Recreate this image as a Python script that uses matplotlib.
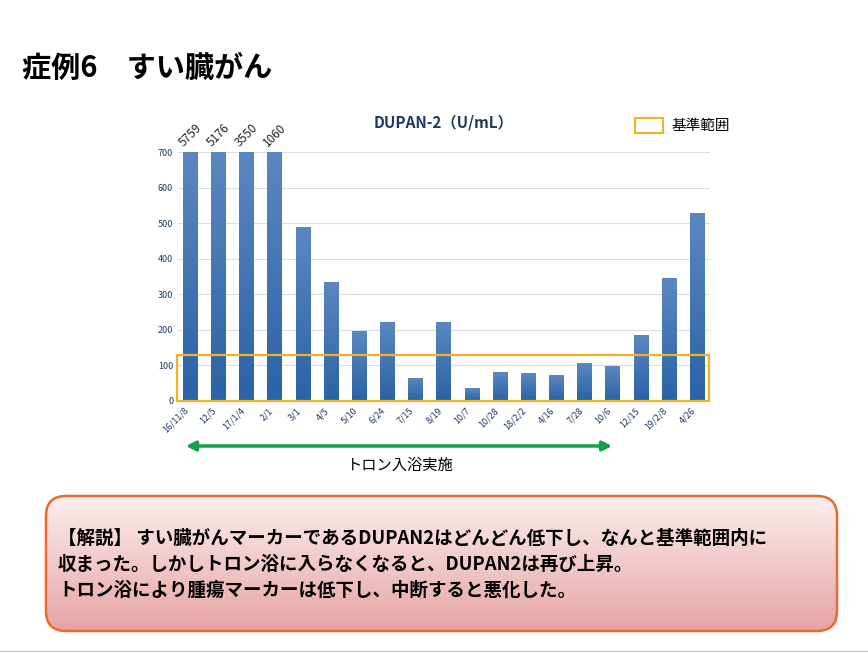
import numpy as np
import matplotlib.pyplot as plt
from matplotlib.patches import Rectangle, FancyBboxPatch, FancyArrowPatch
from matplotlib.colors import LinearSegmentedColormap

plt.rcParams["font.family"] = ["Noto Sans CJK JP", "DejaVu Sans"]

# data
dates = ["16/11/8", "12/5", "17/1/4", "2/1", "3/1", "4/5", "5/10", "6/24", "7/15", "8/19",
         "10/7", "10/28", "18/2/2", "4/16", "7/28", "10/6", "12/15", "19/2/8", "4/26"]
values = [5759, 5176, 3550, 1060, 487, 333, 196, 221, 64, 221,
          36, 81, 78, 72, 106, 97, 184, 344, 526]
y_cap = 700
ref_upper = 128

fig = plt.figure(figsize=(8.68, 6.53), dpi=100)
W, H = 868, 653

def fx(px):
    return px / W

def fy(py):
    return 1 - py / H

fig.text(fx(22), fy(68), "症例6　すい臓がん", fontsize=21, fontweight="bold", va="center")

ax = fig.add_axes([fx(178), fy(401), fx(710) - fx(178), fy(152) - fy(401)])
x = np.arange(len(values))
shown = [min(v, y_cap) for v in values]
grad = np.linspace(0, 1, 100).reshape(-1, 1)
cmap = LinearSegmentedColormap.from_list("b", ["#2a63a6", "#5b87c0"])
w = 0.52
for xi, h in zip(x, shown):
    ax.imshow(grad, extent=(xi - w / 2, xi + w / 2, 0, h), origin="lower",
              cmap=cmap, aspect="auto", zorder=2)
for xi, v in zip(x, values):
    if v > y_cap:
        ax.text(xi, y_cap + 8, str(v), rotation=45, ha="center", va="bottom",
                fontsize=8.5, color="#222222")
ax.add_patch(Rectangle((-0.45, 0), len(values) - 1 + 0.85, ref_upper,
                       fill=False, edgecolor="#f5b120", lw=1.6, zorder=3, clip_on=False))
ax.set_xlim(-0.43, len(values) - 0.55)
ax.set_ylim(0, y_cap)
ax.set_yticks(range(0, 701, 100))
ax.set_xticks(x)
ax.set_xticklabels(dates, rotation=45, ha="right", fontsize=6.5, color="#1f3864")
ax.tick_params(axis="y", labelsize=6.5, labelcolor="#1f3864", length=0)
ax.tick_params(axis="x", length=0)
ax.grid(axis="y", color="#d5dfea", lw=0.8, zorder=0)
for s in ax.spines.values():
    s.set_visible(False)
ax.set_title("DUPAN-2（U/mL）", fontsize=11, fontweight="bold", color="#1f3864", pad=18)

fig.patches.append(Rectangle((fx(635), fy(133)), fx(28), fy(118) - fy(133),
                             transform=fig.transFigure, fill=False,
                             edgecolor="#f5b120", lw=1.5))
fig.text(fx(672), fy(126), "基準範囲", fontsize=10.5, va="center")

arrow = FancyArrowPatch((fx(183), fy(446)), (fx(615), fy(446)), transform=fig.transFigure,
                        arrowstyle="<|-|>", mutation_scale=14, color="#12a34a", lw=2.5)
fig.patches.append(arrow)
fig.text(fx(400), fy(465), "トロン入浴実施", fontsize=11, ha="center", va="center")

# comment box with gradient, rounded corners in pixel units
bax = fig.add_axes([fx(45), fy(632), fx(838) - fx(45), fy(495) - fy(632)])
bax.set_xlim(0, 1)
bax.set_ylim(0, 1)
bax.axis("off")
bcmap = LinearSegmentedColormap.from_list("p", ["#e6a3a3", "#fcefef"])
im = bax.imshow(np.linspace(0, 1, 100).reshape(-1, 1), extent=(0, 1, 0, 1),
                origin="lower", cmap=bcmap, aspect="auto")
box = FancyBboxPatch((46, H - 631), 791, 135, boxstyle="round,pad=0,rounding_size=20",
                     facecolor="none", edgecolor="#ec6a2c", lw=1.8, transform=None)
fig.patches.append(box)
im.set_clip_path(box)
lines = ["【解説】 すい臓がんマーカーであるDUPAN2はどんどん低下し、なんと基準範囲内に",
         "収まった。しかしトロン浴に入らなくなると、DUPAN2は再び上昇。",
         "トロン浴により腫瘍マーカーは低下し、中断すると悪化した。"]
for i, t in enumerate(lines):
    fig.text(fx(58), fy(538 + 26 * i), t, fontsize=13.3, fontweight="bold", va="center")

fig.add_artist(plt.Line2D([0, 1], [fy(651), fy(651)], color="#cccccc", lw=1))

fig.savefig("out.png", dpi=100)
